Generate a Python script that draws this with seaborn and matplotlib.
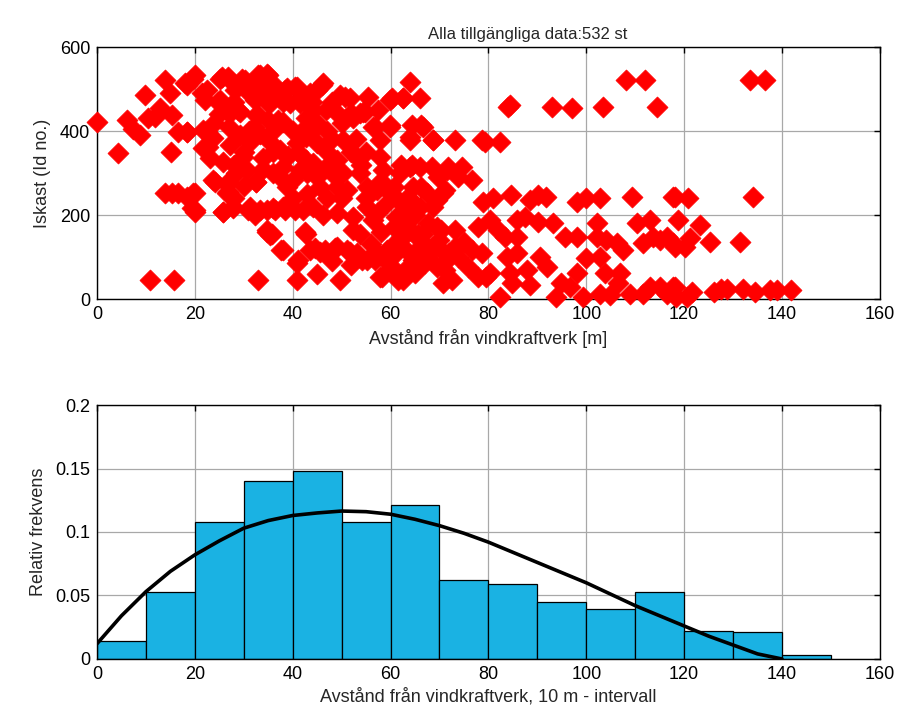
import numpy as np
import pandas as pd
import matplotlib
matplotlib.use("Agg")
import matplotlib.pyplot as plt
import seaborn as sns

# --- Scatter data: distance from turbine [m] and ice throw id ---
dist_m = [
    0, 4.4, 6.1, 7.4, 8.8, 9.8, 10.5, 11.9, 12.9, 13.9, 14.9, 15.3, 15.1, 16.6, 18.3, 18, 19.4, 20,
    21.4, 22, 21.7, 23.4, 22.7, 25.5, 26.8, 24.7, 26.8, 28.9, 28.2, 30.2, 33, 34.7, 35.7, 32.3, 34.7,
    33, 35, 37, 38.4,
    13.9, 15.3, 16.6, 20, 20, 19.4, 10.8, 15.8, 33, 24.1, 26.8, 26.8, 32.6, 25.8, 27.9, 30.9, 32.3,
    34.7, 36.4, 34.7, 35.7, 37.7, 38.4,
    19.7, 18.3, 22.4, 25.1, 27.2, 29.6, 31.6, 33.3, 35, 34, 25.1, 27.2, 29.2, 32.6, 35.3, 38.8, 40.8,
    39.4, 41.4, 43.5, 45.9, 44.2, 46.9, 49, 49.7, 51.7, 55.4, 53.7, 52.4, 64, 59.9, 62.6, 66, 38.1,
    42.8, 42.8, 18.3, 22.4, 23.8, 21.7, 23.1, 25.8, 27.2, 29.2, 31.3, 33.3, 35.3, 34, 29.9, 30.6,
    32.6, 28.5, 26.5, 23.8, 26.5, 19.7, 18.3, 20, 25.8, 27.9, 31.3, 33.3, 36, 38.1, 40.5, 42.2, 44.2,
    46.2, 49, 52.4, 37.4, 38.1, 37.4, 40.1, 38.8, 41.5, 42.8, 40.8, 42.8, 44.9, 44.2, 45.6, 46.9, 49,
    49, 50.3, 50.3, 53.1, 51, 53.7, 55.1, 55.1, 57.2, 56.5, 54.4, 57.8, 57.8, 59.9, 58.5, 60.6, 61.9,
    64, 66, 64, 66.7, 68.7, 64.6, 67.4, 69.4, 64.6, 59.2, 56.5, 52.4, 53.7, 60.6, 61.9, 64, 66.7,
    69.4, 71.5, 70.8, 34.7, 35.3, 42.8, 43.5, 45.6, 46.9, 49, 51, 53.1, 55.1, 57.2, 59.2, 61.2, 64.6,
    67.4, 69.4, 57.8, 62.6, 70.8, 40.8, 38.1, 40.8, 49.7, 57.2, 61.2, 63.3, 66, 68.7, 66, 68.7, 71.5,
    41.1, 42.5, 44.5, 46.6, 48.6, 51.7, 54.1, 56.8, 58.2, 60.2, 61.6, 62.9, 65, 67, 68.4, 71.1, 72.5,
    73.8, 75.9, 77.9, 76.6, 78.6, 63.6, 66.3, 71.1, 69.7, 73.8, 76.6, 77.9, 73.2, 70.4, 67.7, 65.7,
    62.3, 60.9, 58.8, 70.4, 73.2,
    81, 84.7, 88.5, 90.2, 91.7, 98, 100, 102.8, 109.3, 117.8, 78.9, 80.3, 82, 83.4, 85.8, 87.5, 90.2,
    85.8, 93.2, 95.6, 98, 102.1, 102.1, 104.1, 106.2, 107.5, 110.3, 113, 111.6, 113.7, 115, 116.4,
    117.8, 83.7, 85.8, 84.4, 87.8, 90.6, 91.9, 88.5, 84.9, 82.3, 80.3, 94.9, 93.9, 96.6, 98, 99.4,
    100, 102.8, 103.8, 102.8, 104.8, 106.9, 106.5, 108.9, 111.6, 113, 115, 116.4, 117.8, 118.4, 79.6,
    118.1, 120.8, 134.1, 118.8, 123.2, 121.2, 120.2, 125.3, 131.4, 118.1, 118.1, 120.5, 121.5, 126,
    127.6, 128.7, 132.1, 134.5, 137.5, 138.9, 141.9,
    60.2, 62.6, 50.7, 46.2, 44.9, 40.5, 59.9, 64.3, 66.3, 64, 68.7, 73.2, 78.6, 57.5, 54.8, 52, 62.2,
    64.3, 68.4, 71.8, 74.5, 56.8,
    84.4, 83.9, 92.9, 97, 103.5, 108.2, 112, 114.4, 79.3, 82.3, 133.4, 136.5,
    # dense core, filled in by eye
    28, 30, 32, 36, 39, 41, 43, 45, 47, 47, 45, 48, 50, 52, 54, 36, 34, 30, 28, 40, 43, 47, 50,
    44, 48, 42, 38, 36, 31, 28, 25, 24, 27, 31, 36, 40, 44, 48, 55, 53, 58, 60, 55, 62, 65, 58,
    62, 66, 56, 63, 70, 72, 75, 59, 52, 48, 45, 65,
]
ice_id = [
    421, 347, 426, 406, 390, 486, 430, 434, 454, 521, 490, 438, 351, 398, 398, 514, 525, 533,
    490, 474, 402, 386, 363, 529, 529, 470, 446, 450, 498, 521, 533, 537, 514, 474, 470,
    438, 426, 426, 498,
    252, 252, 252, 252, 208, 216, 45, 45, 45, 279, 279, 255, 279, 208, 216, 212, 200,
    212, 212, 160, 156, 117, 212,
    525, 510, 498, 525, 521, 525, 510, 533, 533, 502, 474, 442, 446, 438, 466, 502, 506,
    466, 466, 490, 510, 450, 450, 442, 486, 478, 482, 442, 430, 517, 474, 478, 478, 422,
    430, 410, 398, 398, 383, 359, 335, 327, 367, 390, 375, 394, 375, 335, 339, 307,
    279, 299, 275, 283, 252, 252, 244, 212, 208, 220, 220, 212, 216, 220, 212, 212, 220,
    200, 204, 196, 355, 315, 291, 283, 267, 307, 331, 371, 386, 371, 323, 267, 315, 331,
    267, 378, 299, 339, 259, 299, 267, 220, 259, 410, 446, 378, 339, 410, 307, 267, 299,
    315, 315, 386, 410, 378, 267, 252, 236, 228, 228, 188, 164, 156, 172, 164, 164, 156,
    172, 307, 252, 164, 152, 156, 117, 113, 109, 125, 117, 109, 93, 109, 117, 109, 93,
    101, 77, 53, 45, 37, 85, 117, 45, 45, 204, 196, 204, 220, 220, 125, 125, 93,
    93, 160, 121, 117, 121, 113, 93, 93, 53, 77, 45, 69, 61, 85, 117, 69, 45,
    101, 77, 53, 117, 109, 244, 267, 259, 291, 291, 283, 172, 164, 164, 180, 156,
    180, 133, 109, 117, 125,
    240, 248, 236, 248, 244, 232, 240, 240, 244, 244, 232, 188, 164, 148, 188, 196, 184,
    148, 180, 148, 148, 180, 148, 140, 133, 117, 180, 188, 133, 148, 140, 148,
    133, 101, 109, 61, 69, 101, 77, 33, 37, 5, 61, 37, 5, 29, 61, 5,
    97, 101, 61, 13, 9, 61, 37, 13, 13, 29, 29, 13, 29, 5, 53,
    244, 240, 244, 188, 176, 145, 125, 136, 136, 125, 29, 5, 17, 17,
    25, 25, 25, 17, 21, 21, 21,
    478, 478, 482, 514, 498, 506, 414, 414, 414, 379, 379, 379, 379, 450, 446, 442, 319,
    319, 315, 315, 315, 410,
    462, 458, 458, 454, 458, 521, 521, 458, 375, 375, 521, 521,
    320, 350, 410, 350, 340, 350, 300, 290, 350, 400, 420, 380, 420, 350, 320, 300, 310, 270,
    240, 240, 250, 240, 240, 470, 470, 480, 470, 490, 490, 470, 440, 420, 410, 400, 400, 400,
    400, 300, 350, 380, 280, 250, 240, 230, 200, 160, 140, 140, 130, 120, 140, 110, 135, 90,
    80, 90, 60, 100,
]

# --- Histogram: relative frequency per 10 m interval ---
bin_edges = [0, 10, 20, 30, 40, 50, 60, 70, 80, 90, 100, 110, 120, 130, 140, 150]
rel_freq = [0.014, 0.053, 0.108, 0.140, 0.148, 0.108, 0.121, 0.062, 0.059, 0.045,
            0.039, 0.053, 0.022, 0.021, 0.003]

# --- Fitted curve (black line) ---
curve_x = [0, 5, 10, 15, 20, 25, 30, 35, 40, 45, 50, 55, 60, 65, 70, 75, 80, 85, 90, 95,
           100, 105, 110, 115, 120, 125, 130, 135, 140]
curve_y = [0.012, 0.034, 0.053, 0.069, 0.082, 0.093, 0.103, 0.109, 0.113, 0.115, 0.1165,
           0.116, 0.114, 0.110, 0.105, 0.099, 0.092, 0.084, 0.076, 0.068, 0.060, 0.051,
           0.042, 0.034, 0.026, 0.018, 0.011, 0.004, 0.0]

sns.set_theme(style="white")
plt.rcParams["font.family"] = ["Liberation Sans", "DejaVu Sans"]
plt.rcParams["font.size"] = 13


def matlab_axes(ax):
    ax.grid(True, color="#a8a8a8", linewidth=0.9)
    ax.set_axisbelow(True)
    for s in ax.spines.values():
        s.set_color("black")
        s.set_linewidth(1.0)
        s.set_visible(True)
    ax.tick_params(direction="in", top=True, right=True, length=4, width=1,
                   labelsize=13, colors="black", pad=5)


fig = plt.figure(figsize=(9.02, 7.24), dpi=100)
ax1 = fig.add_axes([0.1075, 0.587, 0.868, 0.348])
ax2 = fig.add_axes([0.1075, 0.0898, 0.868, 0.3508])

# 1) scatter
scat = pd.DataFrame({"dist": dist_m, "id": ice_id})
sns.scatterplot(data=scat, x="dist", y="id", marker="D", color="#ff0000", s=115,
                edgecolor="#ff0000", linewidth=0.5, ax=ax1, clip_on=False, zorder=3)
ax1.set_xlim(0, 160)
ax1.set_ylim(0, 600)
ax1.set_xticks(range(0, 161, 20))
ax1.set_yticks([0, 200, 400, 600])
ax1.set_xlabel("Avstånd från vindkraftverk [m]", fontsize=13, labelpad=4)
ax1.set_ylabel("Iskast (Id no.)", fontsize=13, labelpad=6)
ax1.set_title("Alla tillgängliga data:532 st", fontsize=12, pad=6, x=0.55)
matlab_axes(ax1)

# 2) histogram + curve
centers = [(bin_edges[i] + bin_edges[i + 1]) / 2 for i in range(len(rel_freq))]
sns.histplot(x=centers, weights=rel_freq, bins=bin_edges, stat="count",
             color="#1ab2e3", edgecolor="black", linewidth=0.9, alpha=1, ax=ax2, zorder=2)
sns.lineplot(x=curve_x, y=curve_y, color="black", linewidth=2.6, ax=ax2, zorder=3)
ax2.set_xlim(0, 160)
ax2.set_ylim(0, 0.2)
ax2.set_xticks(range(0, 161, 20))
ax2.set_yticks([0, 0.05, 0.1, 0.15, 0.2])
ax2.set_yticklabels(["0", "0.05", "0.1", "0.15", "0.2"])
ax2.set_xlabel("Avstånd från vindkraftverk, 10 m - intervall", fontsize=13, labelpad=4)
ax2.set_ylabel("Relativ frekvens", fontsize=13, labelpad=6)
matlab_axes(ax2)

fig.savefig("out.png", dpi=100)
